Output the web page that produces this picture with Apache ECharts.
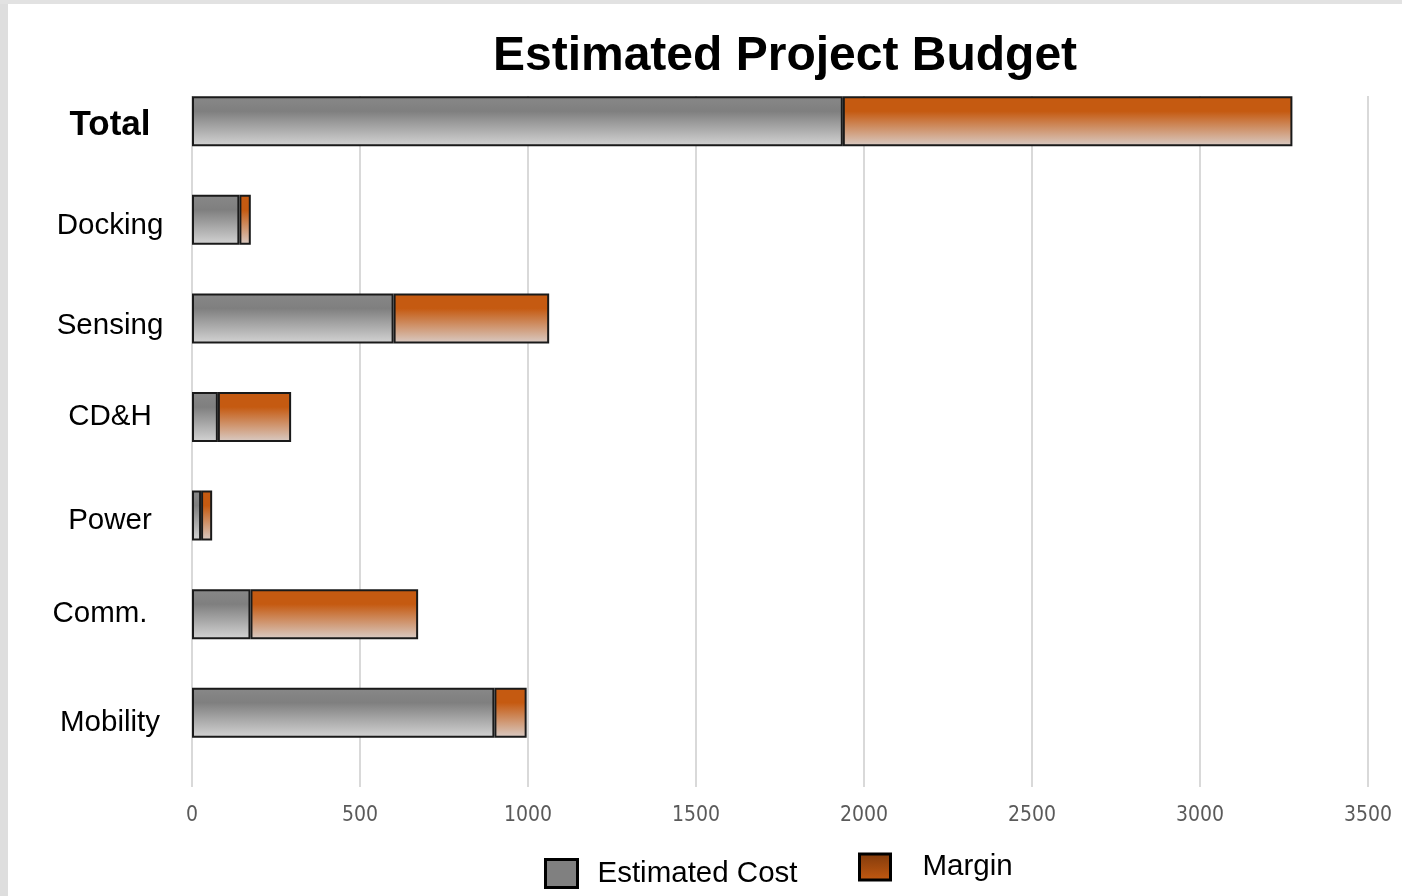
<!DOCTYPE html>
<html>
<head>
<meta charset="utf-8">
<title>Estimated Project Budget</title>
<script src="https://cdn.jsdelivr.net/npm/echarts@6/dist/echarts.min.js"></script>
<style>
  html, body { margin: 0; padding: 0; background: #ffffff; }
  #chart { width: 1402px; height: 896px; }
</style>
</head>
<body>
<div id="chart"></div>
<script>
// Budget breakdown per subsystem
const categories = ['Total', 'Docking', 'Sensing', 'CD&H', 'Power', 'Comm.', 'Mobility'];
const estimatedCost = [1937, 141, 600, 77, 27, 174, 900];
const margin = [1338, 34, 463, 218, 33, 499, 96];
const xTicks = [0, 500, 1000, 1500, 2000, 2500, 3000, 3500];

const X_MIN = xTicks[0];
const X_MAX = xTicks[xTicks.length - 1];
const X_STEP = xTicks[1] - xTicks[0];

const LEFT = 192, RIGHT = 34;
const FONT = 'Liberation Sans, Arial, sans-serif';

function vGrad(stops) {
  return new echarts.graphic.LinearGradient(0, 0, 0, 1,
    stops.map(s => ({ offset: s[0], color: s[1] })));
}

const grayFill = vGrad([[0, '#888888'], [0.3, '#7f7f7f'], [1, '#d4d4d4']]);
const orangeFill = vGrad([[0, '#c55a11'], [0.3, '#c55a11'], [1, '#d9ccc6']]);

// per-row nudges of the category labels: [down, left] in px
const labelNudge = [[4, 0], [6, 0], [7, 0], [0, 0], [5, 0], [0, 10], [10, 0]];
const labelRich = {};
labelNudge.forEach((n, i) => {
  labelRich['r' + i] = {
    fontFamily: FONT,
    fontSize: i === 0 ? 35 : 29.5,
    fontWeight: i === 0 ? 'bold' : 'normal',
    color: '#000000',
    padding: [Math.max(0, 2 * n[0]), Math.max(0, 2 * n[1]), 0, 0]
  };
});

const chart = echarts.init(document.getElementById('chart'), null, { renderer: 'canvas' });

const option = {
  backgroundColor: '#ffffff',
  animation: false,
  title: {
    text: 'Estimated Project Budget',
    left: 785,
    textAlign: 'center',
    top: 28,
    textStyle: { fontFamily: FONT, fontWeight: 'bold', fontSize: 48, color: '#000000' }
  },
  graphic: [
    { type: 'rect', left: 0, top: 0, shape: { width: 8, height: 896 }, style: { fill: '#dedede' }, silent: true },
    { type: 'rect', left: 0, top: 0, shape: { width: 1402, height: 4 }, style: { fill: '#e2e2e2' }, silent: true }
  ],
  legend: [
    {
      data: [{ name: 'Estimated Cost', itemStyle: { color: '#808080', borderColor: '#000000', borderWidth: 3 } }],
      left: 539, top: 853,
      icon: 'rect',
      itemWidth: 32, itemHeight: 28,
      selectedMode: false,
      textStyle: { fontFamily: FONT, fontSize: 29.5, color: '#000000', padding: [0, 0, 0, 15] }
    },
    {
      data: [{ name: 'Margin', itemStyle: { color: vGrad([[0, '#7f3a0c'], [1, '#c55a11']]), borderColor: '#000000', borderWidth: 3 } }],
      left: 853, top: 847,
      icon: 'rect',
      itemWidth: 31, itemHeight: 26,
      selectedMode: false,
      textStyle: { fontFamily: FONT, fontSize: 29.5, color: '#000000', padding: [0, 0, 0, 27] }
    }
  ],
  grid: [
    // value scale with vertical gridlines
    { left: LEFT, right: RIGHT, top: 96, height: 691 },
    // bars
    { left: LEFT, right: RIGHT, top: 72, height: 690 }
  ],
  xAxis: [
    {
      gridIndex: 0,
      type: 'value',
      min: X_MIN, max: X_MAX, interval: X_STEP,
      axisLine: { show: false },
      axisTick: { show: false },
      splitLine: { show: true, lineStyle: { color: '#d9d9d9', width: 2 } },
      axisLabel: {
        margin: 18,
        color: '#5a5a5a',
        fontSize: 21,
        fontFamily: 'Liberation Sans Narrow, DejaVu Sans Condensed, sans-serif',
        formatter: v => String(v)
      }
    },
    {
      gridIndex: 1,
      type: 'value',
      min: X_MIN, max: X_MAX, interval: X_STEP,
      show: false
    }
  ],
  yAxis: [
    { gridIndex: 0, type: 'value', show: false, splitLine: { show: false } },
    {
      gridIndex: 1,
      type: 'category',
      inverse: true,
      data: categories,
      axisLine: { show: false },
      axisTick: { show: false },
      splitLine: { show: false },
      axisLabel: {
        margin: 82,
        align: 'center',
        verticalAlign: 'middle',
        color: '#000000',
        fontFamily: FONT,
        fontSize: 29.5,
        formatter: (v, i) => '{r' + i + '|' + v + '}',
        rich: labelRich
      }
    }
  ],
  series: [
    {
      name: 'Estimated Cost',
      type: 'bar',
      stack: 'budget',
      xAxisIndex: 1, yAxisIndex: 1,
      barWidth: 50,
      data: estimatedCost,
      itemStyle: { color: grayFill, borderColor: '#1a1a1a', borderWidth: 2 }
    },
    {
      name: 'Margin',
      type: 'bar',
      stack: 'budget',
      xAxisIndex: 1, yAxisIndex: 1,
      barWidth: 50,
      data: margin,
      itemStyle: { color: orangeFill, borderColor: '#1a1a1a', borderWidth: 2 }
    }
  ]
};

option.title.left = 780;
chart.setOption(option);
</script>
</body>
</html>
